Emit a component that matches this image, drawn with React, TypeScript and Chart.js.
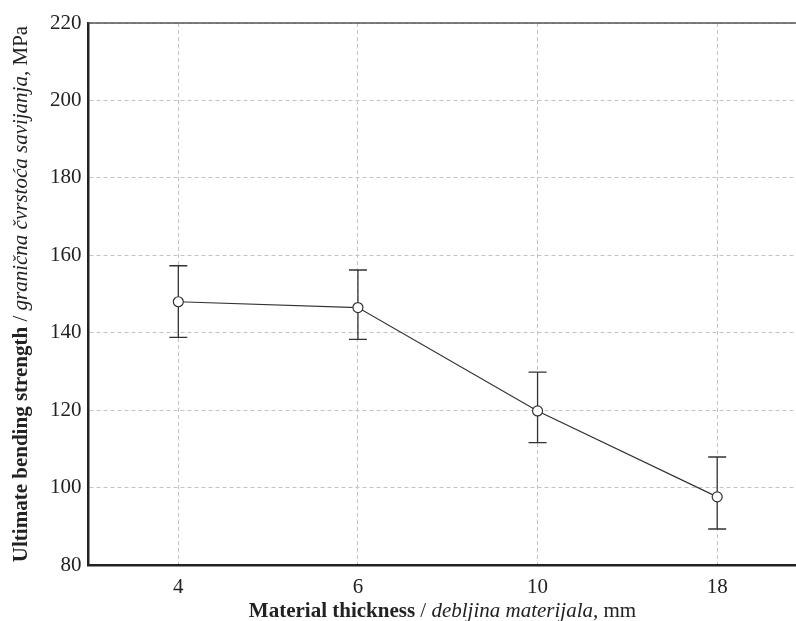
import React, { useEffect, useRef } from "react";
import { Chart, registerables } from "chart.js";

Chart.register(...registerables);

const categories = ["4", "6", "10", "18"];
const means = [148, 146.5, 119.8, 97.6];
const errUpper = [157.3, 156.2, 129.8, 107.9];
const errLower = [138.8, 138.3, 111.6, 89.3];
const yTicks = [80, 100, 120, 140, 160, 180, 200, 220];

const FAMILY = "'Liberation Serif', 'Times New Roman', serif";
const FS = 21;

type Seg = { text: string; font: string };

const xTitle: Seg[] = [
  { text: "Material thickness", font: `bold ${FS}px ${FAMILY}` },
  { text: " / ", font: `${FS}px ${FAMILY}` },
  { text: "debljina materijala,", font: `italic ${FS}px ${FAMILY}` },
  { text: " mm", font: `${FS}px ${FAMILY}` },
];
const yTitle: Seg[] = [
  { text: "Ultimate bending strength", font: `bold ${FS}px ${FAMILY}` },
  { text: " / ", font: `${FS}px ${FAMILY}` },
  { text: "granična čvrstoća savijanja,", font: `italic ${FS}px ${FAMILY}` },
  { text: " MPa", font: `${FS}px ${FAMILY}` },
];

function drawSegs(ctx: CanvasRenderingContext2D, segs: Seg[], cx: number) {
  let total = 0;
  for (const s of segs) {
    ctx.font = s.font;
    total += ctx.measureText(s.text).width;
  }
  let x = cx - total / 2;
  for (const s of segs) {
    ctx.font = s.font;
    ctx.fillText(s.text, x, 0);
    x += ctx.measureText(s.text).width;
  }
}

const errorBarPlugin = {
  id: "errorBars",
  beforeDatasetsDraw(chart: any) {
    const ctx = chart.ctx as CanvasRenderingContext2D;
    const xs = chart.scales.x;
    const ys = chart.scales.y;
    ctx.save();
    ctx.strokeStyle = "#333";
    ctx.lineWidth = 1.3;
    for (let i = 0; i < categories.length; i++) {
      const x = xs.getPixelForValue(i);
      const yt = ys.getPixelForValue(errUpper[i]);
      const yb = ys.getPixelForValue(errLower[i]);
      ctx.beginPath();
      ctx.moveTo(x, yt);
      ctx.lineTo(x, yb);
      ctx.moveTo(x - 9, yt);
      ctx.lineTo(x + 9, yt);
      ctx.moveTo(x - 9, yb);
      ctx.lineTo(x + 9, yb);
      ctx.stroke();
    }
    ctx.restore();
  },
};

const framePlugin = {
  id: "frameTitles",
  afterDraw(chart: any) {
    const ctx = chart.ctx as CanvasRenderingContext2D;
    const a = chart.chartArea;
    ctx.save();
    ctx.strokeStyle = "#555";
    ctx.lineWidth = 1.5;
    ctx.beginPath();
    ctx.moveTo(a.left, a.top);
    ctx.lineTo(a.right, a.top);
    ctx.stroke();

    ctx.fillStyle = "#222";
    ctx.textBaseline = "alphabetic";
    ctx.textAlign = "left";
    ctx.save();
    ctx.translate(0, 616.5);
    drawSegs(ctx, xTitle, 442.5);
    ctx.restore();

    ctx.save();
    ctx.translate(27, (a.top + a.bottom) / 2);
    ctx.rotate(-Math.PI / 2);
    drawSegs(ctx, yTitle, 0);
    ctx.restore();
    ctx.restore();
  },
};

export default function App() {
  const ref = useRef<HTMLCanvasElement | null>(null);
  useEffect(() => {
    if (!ref.current) return;
    const chart = new Chart(ref.current, {
      type: "line",
      data: {
        labels: categories,
        datasets: [
          {
            data: means,
            borderColor: "#333",
            borderWidth: 1.2,
            pointRadius: 5,
            pointBackgroundColor: "#fff",
            pointBorderColor: "#333",
            pointBorderWidth: 1.2,
            tension: 0,
          },
        ],
      },
      options: {
        animation: false,
        responsive: false,
        devicePixelRatio: 1,
        layout: { padding: { left: 0, top: 23, right: 13, bottom: 0 } },
        plugins: { legend: { display: false }, tooltip: { enabled: false } },
        scales: {
          x: {
            type: "category",
            offset: true,
            grid: { color: "#c4c4c4", lineWidth: 1, drawTicks: false, offset: false },
            border: { display: true, color: "#222", width: 2.5, dash: [4, 3] },
            ticks: { color: "#222", font: { family: FAMILY, size: FS }, padding: 10 },
            afterFit: (s: any) => {
              s.height = 56;
            },
          },
          y: {
            min: 80,
            max: 220,
            afterBuildTicks: (s: any) => {
              s.ticks = yTicks.map((v) => ({ value: v }));
            },
            grid: { color: "#c4c4c4", lineWidth: 1, drawTicks: false },
            border: { display: true, color: "#222", width: 2.5, dash: [4, 3] },
            ticks: { color: "#222", font: { family: FAMILY, size: FS }, padding: 7 },
            afterFit: (s: any) => {
              s.width = 88.5;
            },
          },
        },
      },
      plugins: [errorBarPlugin, framePlugin],
    });
    return () => chart.destroy();
  }, []);
  return (
    <div
      style={{
        position: "absolute",
        left: 0,
        top: 0,
        width: 796,
        height: 621,
        overflow: "hidden",
        background: "#fff",
      }}
    >
      <canvas ref={ref} width={820} height={621} style={{ display: "block" }} />
    </div>
  );
}
